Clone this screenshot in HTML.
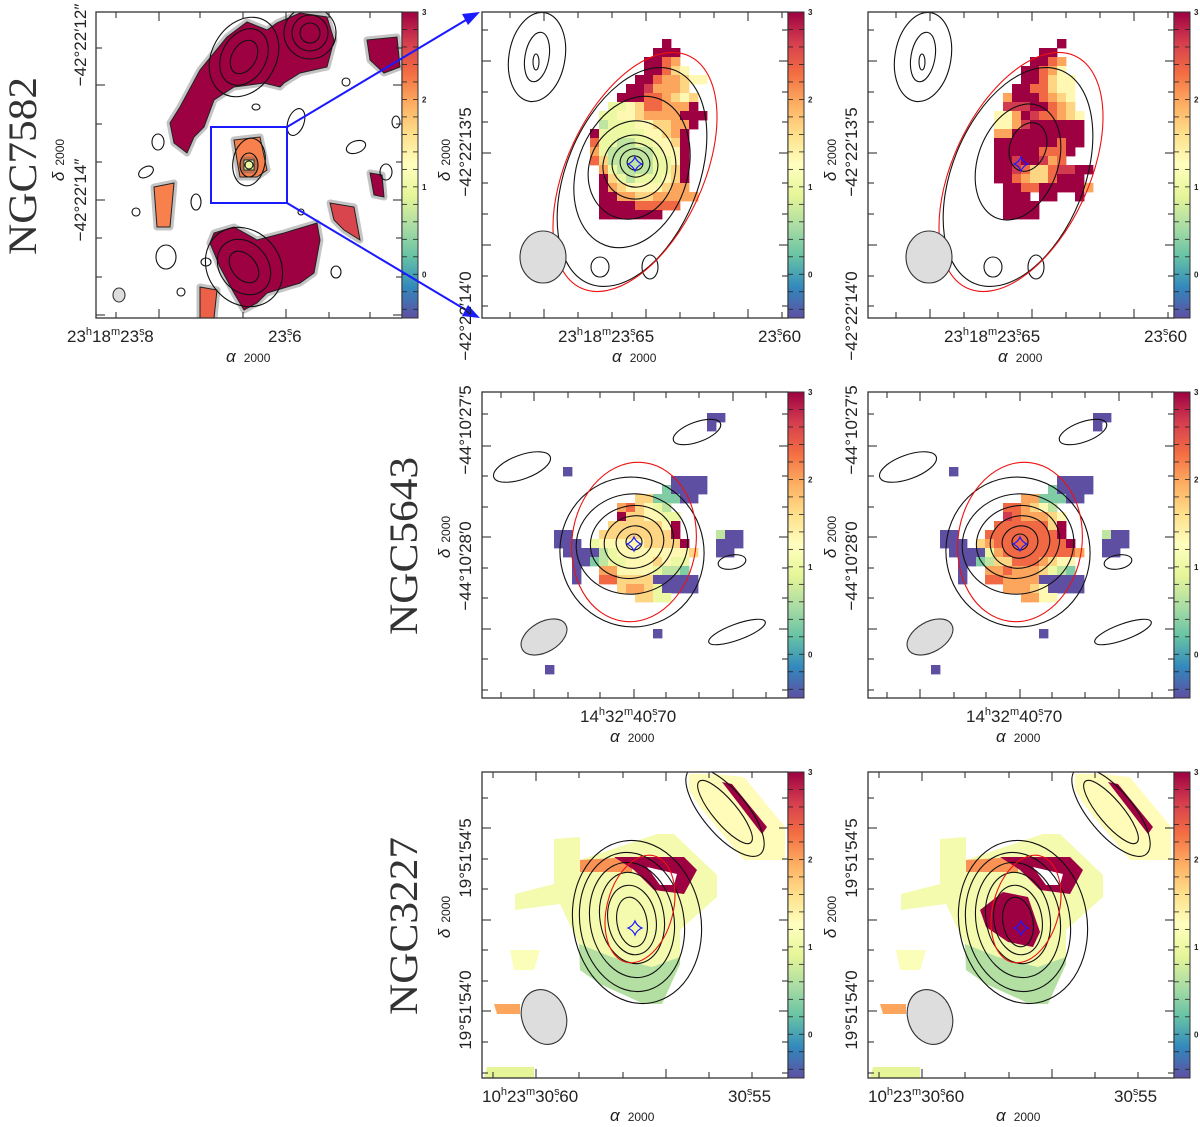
<!DOCTYPE html>
<html><head><meta charset="utf-8">
<style>
html,body{margin:0;padding:0;background:#fff;}
svg{display:block;font-family:"Liberation Sans",sans-serif;}
.tl{font-size:17px;fill:#222;}
.sup{font-size:11px;}
.name{font-family:"Liberation Serif",serif;font-size:40px;fill:#333;}
.cbl{font-size:8px;font-weight:bold;fill:#222;}
</style></head>
<body>
<svg id="fig" width="1200" height="1127" viewBox="0 0 1200 1127" xmlns="http://www.w3.org/2000/svg">
<defs>
<linearGradient id="cmap" x1="0" y1="1" x2="0" y2="0">
<stop offset="0" stop-color="#5e4fa2"/><stop offset="0.1" stop-color="#3288bd"/><stop offset="0.2" stop-color="#66c2a5"/><stop offset="0.3" stop-color="#abdda4"/><stop offset="0.4" stop-color="#e6f598"/><stop offset="0.5" stop-color="#ffffbf"/><stop offset="0.6" stop-color="#fee08b"/><stop offset="0.7" stop-color="#fdae61"/><stop offset="0.8" stop-color="#f46d43"/><stop offset="0.9" stop-color="#d53e4f"/><stop offset="1" stop-color="#9e0142"/>
</linearGradient>
</defs>
<g id="layer"></g>

<text class="name" transform="translate(36,166) rotate(-90)" text-anchor="middle" textLength="178" lengthAdjust="spacingAndGlyphs">NGC7582</text>
<text class="name" transform="translate(417,546) rotate(-90)" text-anchor="middle" textLength="178" lengthAdjust="spacingAndGlyphs">NGC5643</text>
<text class="name" transform="translate(417,926) rotate(-90)" text-anchor="middle" textLength="178" lengthAdjust="spacingAndGlyphs">NGC3227</text>

<text class="tl" transform="translate(86,45) rotate(-90)" text-anchor="middle">−42°22′12″</text>
<text class="tl" transform="translate(86,200) rotate(-90)" text-anchor="middle">−42°22′14″</text>
<text class="tl" transform="translate(64,160) rotate(-90)" text-anchor="middle"><tspan font-style="italic">δ</tspan><tspan font-size="12" dx="6">2000</tspan></text>
<text class="tl" x="67" y="342">23<tspan class="sup" dy="-7">h</tspan><tspan dy="7">18</tspan><tspan class="sup" dy="-7">m</tspan><tspan dy="7">23</tspan><tspan class="sup" dy="-7">s</tspan><tspan dy="7" dx="-5">.8</tspan></text>
<text class="tl" x="268" y="342">23<tspan class="sup" dy="-7">s</tspan><tspan dy="7" dx="-5">.6</tspan></text>
<text class="tl" x="226" y="362"><tspan font-style="italic">α</tspan><tspan font-size="12" dx="8">2000</tspan></text>

<text class="tl" transform="translate(471,152) rotate(-90)" text-anchor="middle">−42°22′13′5</text>
<text class="tl" transform="translate(471,316) rotate(-90)" text-anchor="middle">−42°22′14′0</text>
<text class="tl" transform="translate(450,160) rotate(-90)" text-anchor="middle"><tspan font-style="italic">δ</tspan><tspan font-size="12" dx="6">2000</tspan></text>
<text class="tl" x="558" y="342">23<tspan class="sup" dy="-7">h</tspan><tspan dy="7">18</tspan><tspan class="sup" dy="-7">m</tspan><tspan dy="7">23</tspan><tspan class="sup" dy="-7">s</tspan><tspan dy="7" dx="-5">.65</tspan></text>
<text class="tl" x="758" y="342">23<tspan class="sup" dy="-7">s</tspan><tspan dy="7" dx="-5">.60</tspan></text>
<text class="tl" x="612" y="362"><tspan font-style="italic">α</tspan><tspan font-size="12" dx="8">2000</tspan></text>

<text class="tl" transform="translate(857,152) rotate(-90)" text-anchor="middle">−42°22′13′5</text>
<text class="tl" transform="translate(857,316) rotate(-90)" text-anchor="middle">−42°22′14′0</text>
<text class="tl" transform="translate(836,160) rotate(-90)" text-anchor="middle"><tspan font-style="italic">δ</tspan><tspan font-size="12" dx="6">2000</tspan></text>
<text class="tl" x="944" y="342">23<tspan class="sup" dy="-7">h</tspan><tspan dy="7">18</tspan><tspan class="sup" dy="-7">m</tspan><tspan dy="7">23</tspan><tspan class="sup" dy="-7">s</tspan><tspan dy="7" dx="-5">.65</tspan></text>
<text class="tl" x="1144" y="342">23<tspan class="sup" dy="-7">s</tspan><tspan dy="7" dx="-5">.60</tspan></text>
<text class="tl" x="998" y="362"><tspan font-style="italic">α</tspan><tspan font-size="12" dx="8">2000</tspan></text>

<text class="tl" transform="translate(471,430) rotate(-90)" text-anchor="middle">−44°10′27′5</text>
<text class="tl" transform="translate(471,566) rotate(-90)" text-anchor="middle">−44°10′28′0</text>
<text class="tl" transform="translate(450,537) rotate(-90)" text-anchor="middle"><tspan font-style="italic">δ</tspan><tspan font-size="12" dx="6">2000</tspan></text>
<text class="tl" x="580" y="722">14<tspan class="sup" dy="-7">h</tspan><tspan dy="7">32</tspan><tspan class="sup" dy="-7">m</tspan><tspan dy="7">40</tspan><tspan class="sup" dy="-7">s</tspan><tspan dy="7" dx="-5">.70</tspan></text>
<text class="tl" x="610" y="742"><tspan font-style="italic">α</tspan><tspan font-size="12" dx="8">2000</tspan></text>
<text class="tl" transform="translate(857,430) rotate(-90)" text-anchor="middle">−44°10′27′5</text>
<text class="tl" transform="translate(857,566) rotate(-90)" text-anchor="middle">−44°10′28′0</text>
<text class="tl" transform="translate(836,537) rotate(-90)" text-anchor="middle"><tspan font-style="italic">δ</tspan><tspan font-size="12" dx="6">2000</tspan></text>
<text class="tl" x="966" y="722">14<tspan class="sup" dy="-7">h</tspan><tspan dy="7">32</tspan><tspan class="sup" dy="-7">m</tspan><tspan dy="7">40</tspan><tspan class="sup" dy="-7">s</tspan><tspan dy="7" dx="-5">.70</tspan></text>
<text class="tl" x="996" y="742"><tspan font-style="italic">α</tspan><tspan font-size="12" dx="8">2000</tspan></text>

<text class="tl" transform="translate(471,858) rotate(-90)" text-anchor="middle">19°51′54′5</text>
<text class="tl" transform="translate(471,1010) rotate(-90)" text-anchor="middle">19°51′54′0</text>
<text class="tl" transform="translate(450,917) rotate(-90)" text-anchor="middle"><tspan font-style="italic">δ</tspan><tspan font-size="12" dx="6">2000</tspan></text>
<text class="tl" x="482" y="1102">10<tspan class="sup" dy="-7">h</tspan><tspan dy="7">23</tspan><tspan class="sup" dy="-7">m</tspan><tspan dy="7">30</tspan><tspan class="sup" dy="-7">s</tspan><tspan dy="7" dx="-5">.60</tspan></text>
<text class="tl" x="728" y="1102">30<tspan class="sup" dy="-7">s</tspan><tspan dy="7" dx="-5">.55</tspan></text>
<text class="tl" x="610" y="1121"><tspan font-style="italic">α</tspan><tspan font-size="12" dx="8">2000</tspan></text>
<text class="tl" transform="translate(857,858) rotate(-90)" text-anchor="middle">19°51′54′5</text>
<text class="tl" transform="translate(857,1010) rotate(-90)" text-anchor="middle">19°51′54′0</text>
<text class="tl" transform="translate(836,917) rotate(-90)" text-anchor="middle"><tspan font-style="italic">δ</tspan><tspan font-size="12" dx="6">2000</tspan></text>
<text class="tl" x="868" y="1102">10<tspan class="sup" dy="-7">h</tspan><tspan dy="7">23</tspan><tspan class="sup" dy="-7">m</tspan><tspan dy="7">30</tspan><tspan class="sup" dy="-7">s</tspan><tspan dy="7" dx="-5">.60</tspan></text>
<text class="tl" x="1114" y="1102">30<tspan class="sup" dy="-7">s</tspan><tspan dy="7" dx="-5">.55</tspan></text>
<text class="tl" x="996" y="1121"><tspan font-style="italic">α</tspan><tspan font-size="12" dx="8">2000</tspan></text>
</svg>

<script>
const cbarTicks = [0, 1, 2, 3];
const cbarMin = -0.5, cbarMax = 3;

const gridP2 = [
"..........9....",
".........999...",
"........9976...",
"........99754..",
".......99766544",
"......9986665..",
".....999776545.",
"....3345776669.",
"...334456666999",
"...23334455669.",
"..93333344569..",
"..73322334459..",
"..63222223449..",
"..75222223349..",
"...6322223359..",
"...9532333459..",
"...9654444566..",
"...99665566666.",
"...999977777...",
"...9999999....."
];
const gridP3 = [
"...........9...",
".........99....",
"........9976...",
".......99764...",
".......997544..",
"......9977544..",
".....69997654..",
".....88899765..",
"....4469877654.",
"....4468999999.",
"....6699999999.",
"....9999999799.",
"....999997779..",
"....99899867...",
"....99875578899",
"....9976557999.",
".....9977999996",
".....999.99..9.",
".....9999......",
".....9999......"
];
const gridP4 = [
"...................nn",
"...................n.",
".....................",
".....................",
".....................",
".....................",
"...n.................",
"...............nnnn..",
"..............1nnnn..",
"...........55111nn...",
".........675432......",
".........9554433.....",
"........55555549.....",
"..nn...555555559....2nn",
"..nnn.34444455559...nnn",
"...nnnn23444444445..nn.",
"....nn12334445433......",
"....n..6644443221......",
"....n..775555nnnnn.....",
".........56653nnnn.....",
"...........5533........",
".....................",
".....................",
".....................",
".............n.......",
".....................",
".....................",
".....................",
".n..................."
];
const gridP5 = [
"...................nn",
"...................n.",
".....................",
".....................",
".....................",
".....................",
"...n.................",
"...............nnnn..",
"..............1nnnn..",
"...........66111nn...",
".........776542......",
".........8766654.....",
"........77777759.....",
"..nn...777777779....2nn",
"..nnn.56777777779...nnn",
"...nnnn36777777776..nn.",
"....nn12557776544......",
"....n..6676665321......",
"....n..776666nnnnn.....",
".........66654nnnn.....",
"...........6644........",
".....................",
".....................",
".....................",
".............n.......",
".....................",
".....................",
".....................",
".n..................."
];

const p1Regions = [
 {v:3.0, pts:[[84,95],[104,58],[131,25],[151,10],[171,18],[181,11],[204,1],[231,5],[238,28],[231,55],[204,61],[188,71],[184,75],[168,71],[138,75],[118,88],[108,115],[98,125],[91,141],[78,131],[74,111]]},
 {v:3.0, pts:[[118,221],[138,215],[161,228],[188,221],[221,211],[224,228],[218,261],[204,271],[171,281],[161,291],[148,298],[138,281],[124,255],[114,231]]},
 {v:3.0, pts:[[271,28],[301,25],[304,55],[288,61],[274,48]]},
 {v:2.2, pts:[[58,175],[78,171],[74,215],[61,215]]},
 {v:2.6, pts:[[234,191],[258,195],[264,228],[248,218],[238,208]]},
 {v:3.0, pts:[[274,161],[286,163],[288,185],[278,183]]},
 {v:2.4, pts:[[104,275],[121,278],[118,306],[104,306]]},
 {v:2.2, pts:[[138,128],[164,125],[171,158],[161,165],[144,165],[141,148]]},
 {v:1.0, pts:[[148,148],[158,148],[158,158],[148,158]]}
];
const p6Regions = [
 {v:1.3, pts:[[207,2],[232,2],[262,5],[303,55],[303,88],[262,88],[218,35],[207,18]]},
 {v:3.0, pts:[[240,10],[250,12],[285,55],[280,62]]},
 {v:1.1, pts:[[72,67],[98,65],[98,88],[175,62],[192,62],[235,103],[235,125],[198,158],[198,192],[180,232],[162,232],[118,212],[98,198],[97,172],[78,132],[33,138],[33,122],[72,112]]},
 {v:0.6, pts:[[97,172],[130,185],[170,195],[198,185],[198,192],[180,232],[162,232],[118,212],[98,198]]},
 {v:2.1, pts:[[98,88],[150,85],[150,100],[98,100]]},
 {v:3.0, pts:[[132,85],[202,85],[215,98],[202,122],[172,118],[152,98]]},
 {v:1.2, pts:[[28,178],[58,178],[52,198],[32,198]]},
 {v:2.0, pts:[[12,232],[38,232],[38,242],[15,242]]},
 {v:0.9, pts:[[5,295],[52,295],[52,306],[2,306]]}
];
const p7Extra = [
 {v:3.0, pts:[[112,138],[135,120],[160,125],[172,160],[165,175],[140,170],[118,155]]}
];
const holeP67 = [[165,95],[195,102],[192,113],[178,113]];

const contP1 = [[148,45,12,18,30],[148,45,22,30,30],[148,45,32,42,30],[214,21,10,10,0],[214,21,18,18,0],[214,21,26,26,0],[148,255,12,18,-40],[148,255,24,30,-40],[148,255,36,42,-40],[153,153,4,4,0],[153,153,9,12,0],[153,150,16,24,10],
 [62,130,6,8,0],[50,160,8,5,-30],[40,200,4,4,0],[100,190,5,8,0],[110,250,5,4,0],[160,95,4,3,0],[200,110,8,14,20],[260,135,10,6,-20],[290,160,6,8,0],[240,260,5,6,0],[70,245,10,12,0],[300,110,4,6,0],[85,280,4,4,0],[250,70,4,4,0],[205,200,3,3,0]];
const contP2 = [[153,151,8,7,20],[153,151,15,14,20],[153,153,23,22,20],[153,155,32,32,20],[150,158,43,50,20],[150,160,55,78,20],[150,165,66,115,22],[55,45,28,45,10],[55,45,12,25,10],[54,50,3,8,0],[118,255,9,10,0],[168,255,8,12,0]];
const contP3 = [[160,135,18,25,20],[150,150,40,60,20],[150,165,66,115,22],[55,45,28,45,10],[55,45,12,25,10],[54,50,3,8,0],[125,255,9,10,0],[168,255,8,12,0]];
const contP4 = [[152,150,8,8,0],[152,150,18,16,-15],[152,150,30,26,-15],[150,150,42,36,-15],[150,152,56,50,-10],[150,160,72,75,-10],[250,170,14,7,-10],[255,240,30,8,-20],[40,75,30,12,-20],[215,40,25,10,-20]];
const contP6 = [[150,150,15,25,-10],[150,148,24,35,-10],[150,146,32,46,-10],[150,148,42,58,-10],[150,150,52,70,-10],[155,150,64,82,-10],[243,40,12,40,-40],[243,40,22,55,-40]];

const redEll = {p2:[153,160,68,128,25], p4:[152,150,62,80,8], p6:[158,137,33,55,15]};
const beams = {p1:[23,283,6,7,0], p2:[61,245,23,26,0], p4:[62,245,25,15,-30], p6:[62,245,22,28,-20]};

const NS='http://www.w3.org/2000/svg';
const root=document.getElementById('layer');
const STOPS=['#5e4fa2','#3288bd','#66c2a5','#abdda4','#e6f598','#ffffbf','#fee08b','#fdae61','#f46d43','#d53e4f','#9e0142'];
function hex(c){return [parseInt(c.substr(1,2),16),parseInt(c.substr(3,2),16),parseInt(c.substr(5,2),16)];}
function cmap(v){
  let t=(v-cbarMin)/(cbarMax-cbarMin); t=Math.max(0,Math.min(1,t))*10;
  const i=Math.min(9,Math.floor(t)), f=t-i, a=hex(STOPS[i]), b=hex(STOPS[i+1]);
  return 'rgb('+a.map((x,k)=>Math.round(x+(b[k]-x)*f)).join(',')+')';
}
function el(tag,attrs,parent){const e=document.createElementNS(NS,tag);for(const k in attrs)e.setAttribute(k,attrs[k]);(parent||root).appendChild(e);return e;}
function charVal(ch){return ch==='n'?-0.5:(+ch)/3;}

function panel(id,x0,y0){
  const g=el('g',{transform:'translate('+x0+','+y0+')'});
  
  
  const cp=el('clipPath',{id:'clip-'+id},g);
  el('rect',{x:0,y:0,width:306,height:306},cp);
  const inner=el('g',{'clip-path':'url(#clip-'+id+')'},g);
  return {g:g,inner:inner};
}
function drawGrid(p,grid,ox,oy,cs,name){
  grid.forEach((row,r)=>{for(let c=0;c<row.length;c++){const ch=row[c];if(ch==='.'||ch===' ')continue;
    const rc=el('rect',{x:ox+c*cs,y:oy+r*cs,width:cs+0.4,height:cs+0.4,fill:cmap(charVal(ch))},p.inner);
    
    
  }});
}
function drawRegions(p,regions,name,outline){
  regions.forEach(rg=>{
    const pts=rg.pts.map(q=>q.join(',')).join(' ');
    if(outline){const o=el('polygon',{points:pts,fill:'none',stroke:'#555','stroke-width':7,'stroke-linejoin':'round','stroke-opacity':0.35},p.inner);
      
      }
    const pg=el('polygon',{points:pts,fill:cmap(rg.v),stroke:outline?'#222':'none','stroke-width':outline?1:0},p.inner);
    
    
  });
}
function drawContours(p,list,name){
  list.forEach(c=>{
    const e=el('ellipse',{cx:c[0],cy:c[1],rx:c[2],ry:c[3],transform:'rotate('+c[4]+' '+c[0]+' '+c[1]+')',fill:'none',stroke:'#111','stroke-width':1.1},p.inner);
    
    
  });
}
function ellipse(p,c,fill,stroke,name){
  const e=el('ellipse',{cx:c[0],cy:c[1],rx:c[2],ry:c[3],transform:'rotate('+c[4]+' '+c[0]+' '+c[1]+')',fill:fill,stroke:stroke,'stroke-width':1.1},p.inner);
  
  
}
function star(p,cx,cy,name){
  const s=7,k=2;
  const d='M'+cx+','+(cy-s)+' Q'+(cx+k)+','+(cy-k)+' '+(cx+s)+','+cy+' Q'+(cx+k)+','+(cy+k)+' '+cx+','+(cy+s)+' Q'+(cx-k)+','+(cy+k)+' '+(cx-s)+','+cy+' Q'+(cx-k)+','+(cy-k)+' '+cx+','+(cy-s)+'Z';
  const e=el('path',{d:d,fill:'none',stroke:'#1a1aff','stroke-width':1.2},p.inner);
  
  
}
function frame(p,xt,yt,name){
  const g=p.g;
  xt.forEach((x,i)=>{const L=(i%3===1)?9:6;
    el('line',{x1:x,y1:0,x2:x,y2:L,stroke:'#222','stroke-width':1},g);
    el('line',{x1:x,y1:306,x2:x,y2:306-L,stroke:'#222','stroke-width':1},g);});
  yt.forEach((y,i)=>{const L=(i%3===1)?9:6;
    el('line',{x1:0,y1:y,x2:L,y2:y,stroke:'#222','stroke-width':1},g);
    el('line',{x1:306,y1:y,x2:306-L,y2:y,stroke:'#222','stroke-width':1},g);});
  const r=el('rect',{x:0,y:0,width:306,height:306,fill:'none',stroke:'#333','stroke-width':1.3},g);
  
  
  const cb=el('rect',{x:306,y:0,width:16,height:306,fill:'url(#cmap)',stroke:'#333','stroke-width':1},g);
  
  
  const yv=v=>306*(cbarMax-v)/(cbarMax-cbarMin);
  for(let v=-0.4;v<3.0;v+=0.2){const y=yv(v);
    el('line',{x1:306,y1:y,x2:311,y2:y,stroke:'#222','stroke-width':0.8},g);
    el('line',{x1:322,y1:y,x2:317,y2:y,stroke:'#222','stroke-width':0.8},g);}
  cbarTicks.forEach(v=>{const t=el('text',{x:326,y:yv(v)+3,'class':'cbl'},g);t.textContent=String(v);
    
    });
}

const P1=panel('p1',96,12);
drawRegions(P1,p1Regions,'p1',true);
drawContours(P1,contP1,'p1');
ellipse(P1,beams.p1,'#ddd','#333','p1-beam');
const zr=el('rect',{x:115,y:115,width:76,height:76,fill:'none',stroke:'#1a1aff','stroke-width':2},P1.g);


frame(P1,[20,63,104,147,190,233,274],[36,73,112,150,188,226,265,303],'p1');
const a1=el('line',{x1:287,y1:127,x2:476,y2:14,stroke:'#1a1aff','stroke-width':2});


const a2=el('line',{x1:287,y1:203,x2:476,y2:316,stroke:'#1a1aff','stroke-width':2});


const h1=el('polygon',{points:'480,12 462,14 468,25',fill:'#1a1aff'});


const h2=el('polygon',{points:'480,318 462,316 468,305',fill:'#1a1aff'});



const P2=panel('p2',482,12);
drawGrid(P2,gridP2,90,27,9,'p2');
drawContours(P2,contP2,'p2');
ellipse(P2,redEll.p2,'none','#ee1111','p2-aperture');
ellipse(P2,beams.p2,'#ddd','#333','p2-beam');
star(P2,153,152,'p2-nucleus');
frame(P2,[28,62,96,130,164,198,232,266,300],[18,49,80,110,141,171,202,233,264,294],'p2');

const P3=panel('p3',868,12);
drawGrid(P3,gridP3,90,27,9,'p3');
drawContours(P3,contP3,'p3');
ellipse(P3,redEll.p2,'none','#ee1111','p3-aperture');
ellipse(P3,beams.p2,'#ddd','#333','p3-beam');
star(P3,153,152,'p3-nucleus');
frame(P3,[28,62,96,130,164,198,232,266,300],[18,49,80,110,141,171,202,233,264,294],'p3');

const xt4=[19,52,86,118,152,184,217,251,284], yt4=[22,54,84,115,145,176,206,237,267,298];
const P4=panel('p4',482,392);
drawGrid(P4,gridP4,54,21,9,'p4');
drawContours(P4,contP4,'p4');
ellipse(P4,redEll.p4,'none','#ee1111','p4-aperture');
ellipse(P4,beams.p4,'#ddd','#333','p4-beam');
star(P4,152,152,'p4-nucleus');
frame(P4,xt4,yt4,'p4');

const P5=panel('p5',868,392);
drawGrid(P5,gridP5,54,21,9,'p5');
drawContours(P5,contP4,'p5');
ellipse(P5,redEll.p4,'none','#ee1111','p5-aperture');
ellipse(P5,beams.p4,'#ddd','#333','p5-beam');
star(P5,152,152,'p5-nucleus');
frame(P5,xt4,yt4,'p5');

const xt6=[11,54,97,141,184,227,270], yt6=[26,56,87,117,148,178,209,239,270,301];
function hole(p,name){const h=el('polygon',{points:holeP67.map(q=>q.join(',')).join(' '),fill:'#fff'},p.inner);
  
  }
const P6=panel('p6',482,772);
drawRegions(P6,p6Regions,'p6',false);
hole(P6,'p6-blank');
drawContours(P6,contP6,'p6');
ellipse(P6,redEll.p6,'none','#ee1111','p6-aperture');
ellipse(P6,beams.p6,'#ddd','#333','p6-beam');
star(P6,153,156,'p6-nucleus');
frame(P6,xt6,yt6,'p6');

const P7=panel('p7',868,772);
drawRegions(P7,p6Regions,'p7',false);
drawRegions(P7,p7Extra,'p7',false);
hole(P7,'p7-blank');
drawContours(P7,contP6,'p7');
ellipse(P7,redEll.p6,'none','#ee1111','p7-aperture');
ellipse(P7,beams.p6,'#ddd','#333','p7-beam');
star(P7,153,156,'p7-nucleus');
frame(P7,xt6,yt6,'p7');
</script>
</body></html>
